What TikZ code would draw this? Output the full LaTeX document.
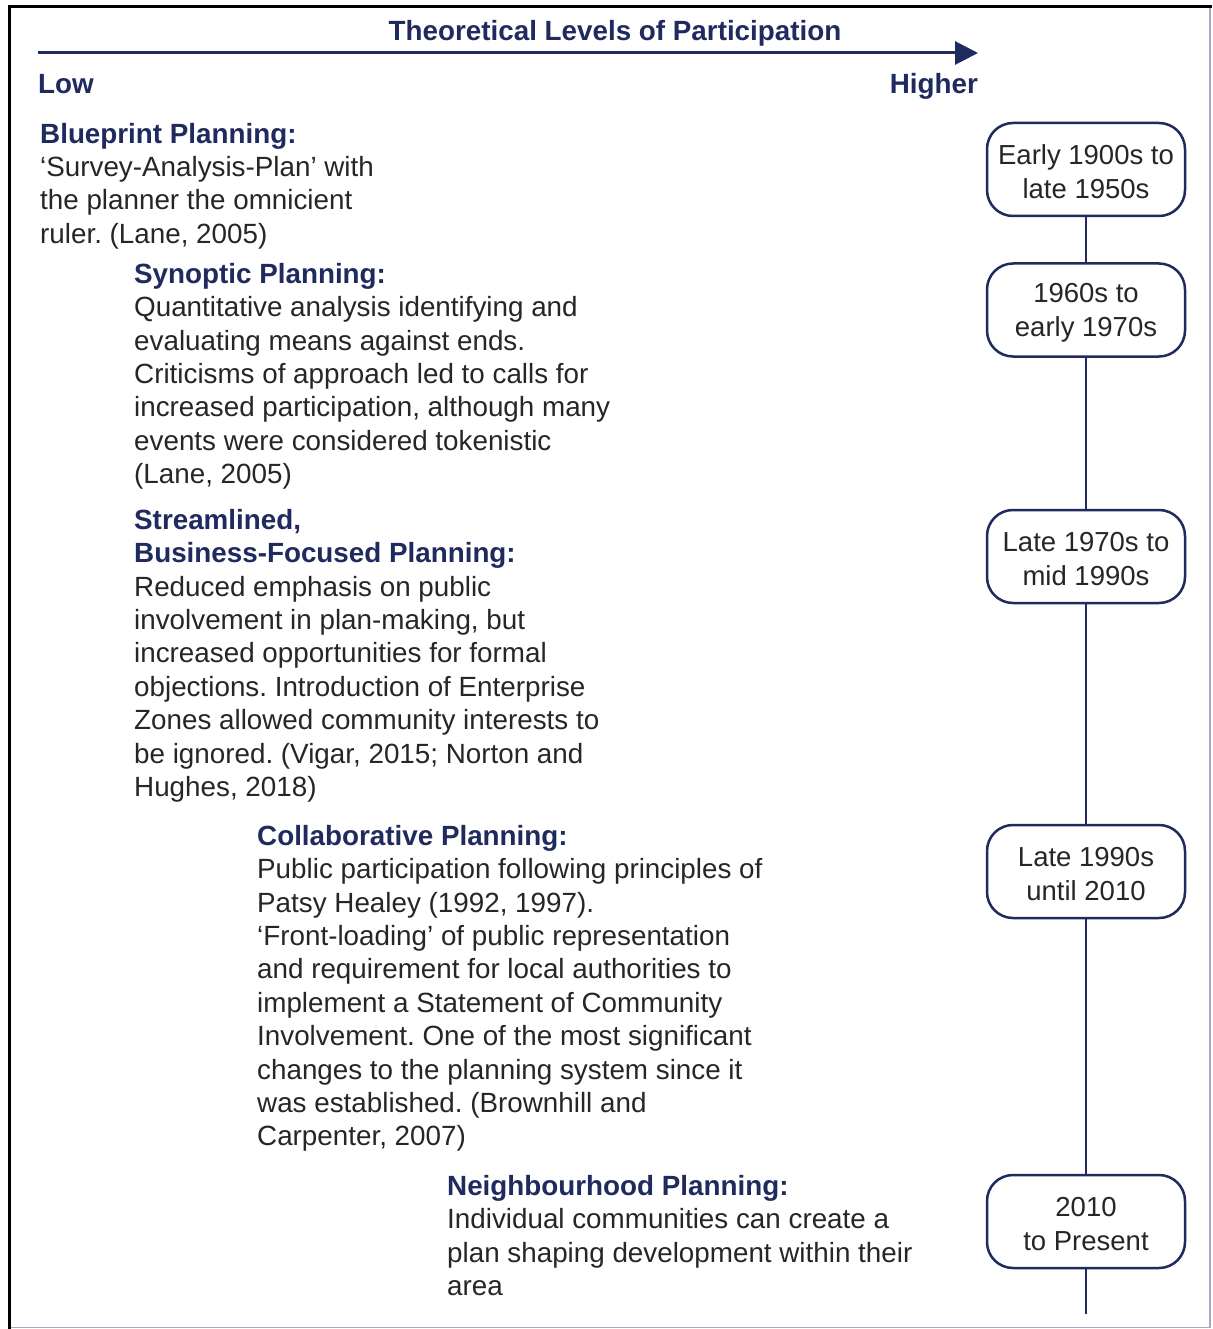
\documentclass[tikz,border=0pt]{standalone}
\usepackage{fontspec}
\setmainfont{Liberation Sans}
\usetikzlibrary{arrows.meta}
\definecolor{navy}{HTML}{1F2A5E}
\definecolor{bodytxt}{HTML}{262626}
\definecolor{lav}{HTML}{A9A7C6}
\tikzset{
  txt/.style={anchor=north west, inner sep=0pt, align=left, text=bodytxt,
    font=\fontsize{27.8}{33.4}\selectfont\frenchspacing},
  hd/.style={anchor=base, inner sep=0pt, text=navy, font=\fontsize{27.8}{33.4}\selectfont\bfseries},
  period/.style={draw=navy, line width=2.5pt, rounded corners=26pt, minimum width=198pt,
    minimum height=93pt, align=center, inner ysep=0pt, inner xsep=0pt, text=bodytxt,
    font=\fontsize{27.5}{33.4}\selectfont, fill=white},
  tl/.style={draw=navy, line width=2.5pt},
}
\newcommand{\hdl}[1]{\textcolor{navy}{\bfseries #1}}
\newcommand{\firstl}{\rule{0pt}{22pt}}
\newcommand{\topl}{\rule{0pt}{24.5pt}}
\begin{document}
\begin{tikzpicture}[x=1pt,y=-1pt]
\useasboundingbox (0,0) rectangle (1212,1329);
\fill[white] (0,0) rectangle (1212,1329);
% frame
\draw[lav, line width=1.5pt] (1210,7) -- (1210,1327.5) -- (9,1327.5);
\draw[black, line width=3pt] (9,1329) -- (9,6.5) -- (1212,6.5);
% axis
\node[hd] (title) at (615,41) {Theoretical Levels of Participation};
\coordinate (axL) at (38,53);
\coordinate (axR) at (978,53);
\draw[navy, line width=3pt, -{Triangle[length=23pt,width=23pt]}] (axL) -- (axR);
\node[hd, anchor=base west] (low) at (38,94) {Low};
\node[hd, anchor=base east] (high) at (978,94) {Higher};
% text blocks
\node[txt] (bp) at (40,121) {\firstl\hdl{Blueprint Planning:}\\
‘Survey-Analysis-Plan’ with\\
the planner the omnicient\\
ruler. (Lane, 2005)};
\node[txt] (syn) at (134,261) {\firstl\hdl{Synoptic Planning:}\\
Quantitative analysis identifying and\\
evaluating means against ends.\\
Criticisms of approach led to calls for\\
increased participation, although many\\
events were considered tokenistic\\
(Lane, 2005)};
\node[txt] (str) at (134,507) {\firstl\hdl{Streamlined,}\\
\hdl{Business-Focused Planning:}\\
Reduced emphasis on public\\
involvement in plan-making, but\\
increased opportunities for formal\\
objections. Introduction of Enterprise\\
Zones allowed community interests to\\
be ignored. (Vigar, 2015; Norton and\\
Hughes, 2018)};
\node[txt] (col) at (257,823) {\firstl\hdl{Collaborative Planning:}\\
Public participation following principles of\\
Patsy Healey (1992, 1997).\\
‘Front-loading’ of public representation\\
and requirement for local authorities to\\
implement a Statement of Community\\
Involvement. One of the most significant\\
changes to the planning system since it\\
was established. (Brownhill and\\
Carpenter, 2007)};
\node[txt] (nei) at (447,1173) {\firstl\hdl{Neighbourhood Planning:}\\
Individual communities can create a\\
plan shaping development within their\\
area};
% timeline
\node[period] (p1) at (1086,169.5) {\topl Early 1900s to\\late 1950s};
\node[period] (p2) at (1086,310) {\topl 1960s to\\early 1970s};
\node[period] (p3) at (1086,556.5) {\topl Late 1970s to\\mid 1990s};
\node[period] (p4) at (1086,871.5) {\topl Late 1990s\\until 2010};
\node[period] (p5) at (1086,1221.5) {\topl 2010\\to Present};
\coordinate (tend) at (1086,1314);
\draw[tl] (p1) -- (p2);
\draw[tl] (p2) -- (p3);
\draw[tl] (p3) -- (p4);
\draw[tl] (p4) -- (p5);
\draw[tl] (p5) -- (tend);
\end{tikzpicture}
\end{document}
